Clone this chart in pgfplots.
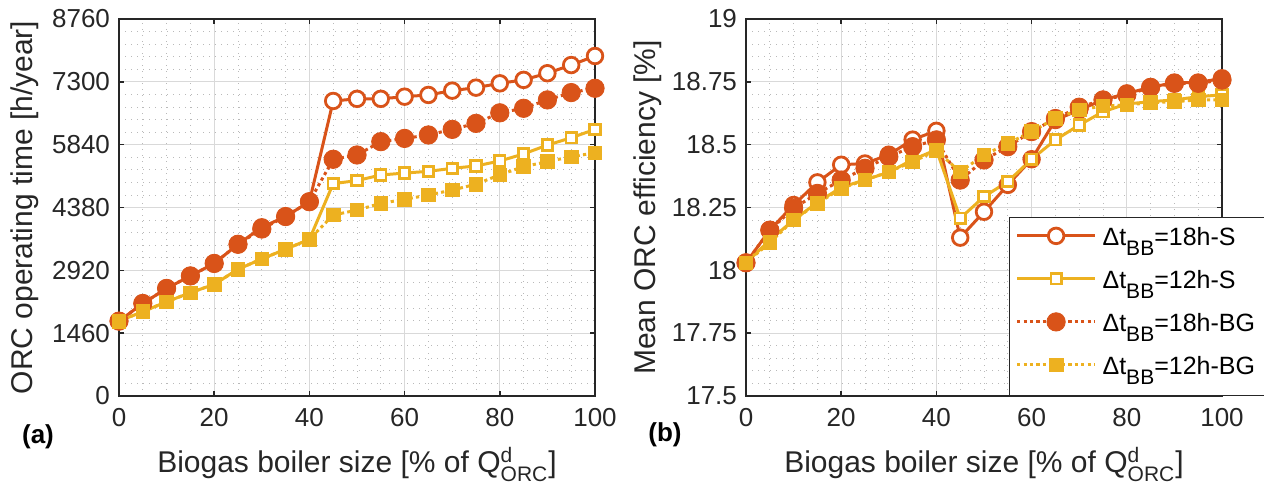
\documentclass[border=0pt]{standalone}
\usepackage{fontspec}
\setmainfont{Liberation Sans}
\usepackage{amsmath}
\usepackage{pgfplots}
\usepackage{pgfplotstable}
\pgfplotsset{compat=1.18}
\definecolor{orng}{RGB}{217,83,25}
\definecolor{yllw}{RGB}{237,177,32}

\pgfplotstableread{
x    s18     s12     bg18    bg12
0    1740    1740    1740    1740
5    2150    1960    2150    1960
10   2500    2190    2500    2190
15   2790    2400    2790    2400
20   3080    2595    3080    2595
25   3525    2945    3525    2945
30   3920    3185    3880    3185
35   4170    3410    4170    3410
40   4515    3640    4515    3640
45   6855    4935    5500    4205
50   6905    5005    5600    4320
55   6905    5135    5910    4475
60   6955    5180    5985    4570
65   6995    5220    6065    4670
70   7095    5290    6195    4785
75   7165    5345    6335    4920
80   7265    5460    6580    5140
85   7345    5625    6685    5330
90   7500    5830    6880    5445
95   7690    6000    7050    5560
100  7900    6195    7150    5650
}\optime

\pgfplotstableread{
x    s18     s12     bg18    bg12
0    18.03   18.03   18.03   18.03
5    18.16   18.12   18.16   18.11
10   18.26   18.20   18.247  18.20
15   18.35   18.27   18.306  18.266
20   18.42   18.33   18.359  18.326
25   18.425  18.36   18.406  18.359
30   18.46   18.39   18.452  18.392
35   18.52   18.44   18.492  18.432
40   18.555  18.48   18.519  18.476
45   18.13   18.207  18.359  18.392
50   18.233  18.293  18.439  18.459
55   18.34   18.353  18.492  18.505
60   18.442  18.442  18.552  18.552
65   18.598  18.519  18.604  18.604
70   18.638  18.578  18.649  18.638
75   18.678  18.631  18.678  18.654
80   18.704  18.662  18.698  18.658
85   18.728  18.671  18.728  18.667
90   18.747  18.678  18.744  18.671
95   18.747  18.691  18.744  18.678
100  18.764  18.698  18.757  18.678
}\effy

\newcommand{\dtbb}{Δt\raisebox{-5pt}{\fontsize{10.5}{11}\selectfont BB}}

\pgfplotsset{
  mlab/.style={
    width=238pt, height=188.5pt, scale only axis,
    xmin=0, xmax=100, xtick={0,20,...,100}, minor x tick num=3,
    grid=both,
    major grid style={gray!30, line width=0.5pt},
    minor grid style={gray!55, line width=0.4pt, dash pattern=on 0.6pt off 2.4pt},
    axis line style={black!85, line width=0.8pt},
    tick style={black!85, line width=0.8pt},
    major tick length=2.5pt, minor tick length=0pt,
    tick label style={font=\fontsize{13}{15}\selectfont, text=black!85},
    xticklabel style={yshift=-2.5pt},
    yticklabel style={xshift=-1pt},
    /pgf/number format/assume math mode=true,
    /pgf/number format/1000 sep={},
    label style={font=\fontsize{15}{17}\selectfont, text=black!85},
    xlabel={Biogas boiler size [\% of Q$^{\text{d}}_{\text{ORC}}$]},
    xlabel style={at={(axis description cs:0.5,-0.2034)}, anchor=base},
    legend image code/.code={\draw[mark repeat=2,mark phase=2,#1]
      plot coordinates {(0pt,3pt)(19.5pt,3pt)(39pt,3pt)};},
  },
  sS18/.style={orng, line width=1.5pt, mark=*, mark size=3.9pt,
    mark options={solid, fill=white, draw=orng, line width=1.4pt}},
  sS12/.style={yllw, line width=1.5pt, mark=square*, mark size=2.6pt,
    mark options={solid, fill=white, draw=yllw, line width=1.4pt}},
  sB18/.style={orng, line width=1.5pt, dash pattern=on 1.6pt off 1.6pt, mark=*, mark size=4.6pt,
    mark options={solid, fill=orng, draw=orng, line width=0.4pt}},
  sB12/.style={yllw, line width=1.5pt, dash pattern=on 1.6pt off 1.6pt, mark=square*, mark size=3.4pt,
    mark options={solid, fill=yllw, draw=yllw, line width=0.4pt}},
}

\begin{document}
\begin{tikzpicture}
\useasboundingbox (0,0) rectangle (632pt,245pt);

\begin{axis}[mlab, at={(59.5pt,47pt)}, anchor=south west,
  ymin=0, ymax=8760, ytick={0,1460,2920,4380,5840,7300,8760}, minor y tick num=4,
  ylabel={ORC operating time [h/year]},
  ylabel style={at={(axis description cs:-0.181,0.5)}, anchor=base}]
\addplot[sS18] table[x=x,y=s18] {\optime};
\addplot[sS12] table[x=x,y=s12] {\optime};
\addplot[sB18] table[x=x,y=bg18] {\optime};
\addplot[sB12] table[x=x,y=bg12] {\optime};
\end{axis}

\begin{axis}[mlab, at={(373pt,47pt)}, anchor=south west,
  ymin=17.5, ymax=19, ytick={17.5,17.75,18,18.25,18.5,18.75,19}, minor y tick num=4,
  yticklabels={17.5,17.75,18,18.25,18.5,18.75,19},
  ylabel={Mean ORC efficiency [\%]},
  ylabel style={at={(axis description cs:-0.19,0.5)}, anchor=base},
  legend cell align=left,
  legend style={at={(axis description cs:0.5525,0)}, anchor=south west,
    draw=black!85, line width=0.6pt, fill=white, inner xsep=3pt, inner ysep=1.5pt,
    font=\fontsize{12.5}{14}\selectfont, row sep=0pt,
    nodes={inner ysep=0pt, inner xsep=3pt, text height=12.5pt, text depth=9pt}}]
\addplot[sS18] table[x=x,y=s18] {\effy};
\addlegendentry{\dtbb=18h-S}
\addplot[sS12] table[x=x,y=s12] {\effy};
\addlegendentry{\dtbb=12h-S}
\addplot[sB18] table[x=x,y=bg18] {\effy};
\addlegendentry{\dtbb=18h-BG}
\addplot[sB12] table[x=x,y=bg12] {\effy};
\addlegendentry{\dtbb=12h-BG}
\end{axis}

\node[font=\bfseries\fontsize{13}{15}\selectfont] at (19pt,26.5pt) {(a)};
\node[font=\bfseries\fontsize{13}{15}\selectfont] at (332.5pt,27.5pt) {(b)};
\end{tikzpicture}
\end{document}
